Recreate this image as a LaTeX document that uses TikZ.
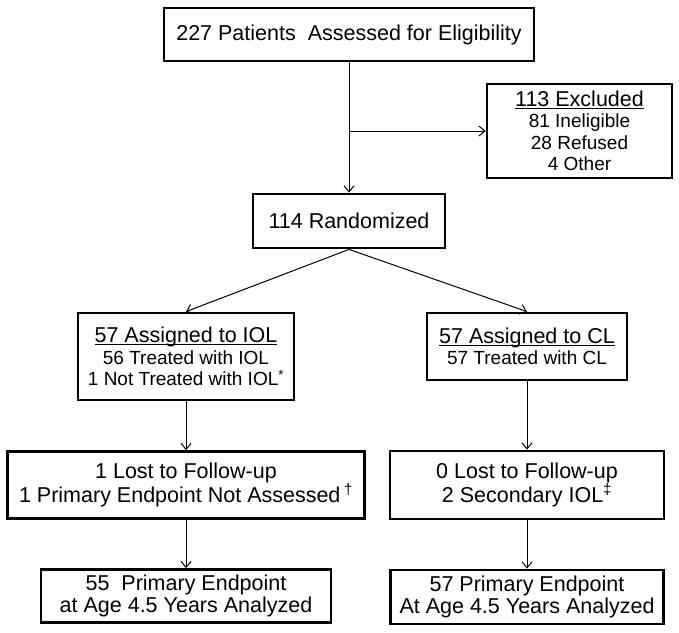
\documentclass[tikz,border=0pt]{standalone}
\usepackage{fontspec}
\setmainfont{Liberation Sans}
\usetikzlibrary{arrows.meta}
\newcommand{\bigtxt}{\fontsize{21.5}{21.5}\selectfont}
\newcommand{\smalltxt}{\fontsize{19}{20}\selectfont}
\newcommand{\headline}[1]{\underline{\raisebox{0pt}[\height][0pt]{#1}}}

\begin{document}
\begin{tikzpicture}[x=1pt, y=-1pt,
        box/.style={draw, line width=2.8pt, align=center, inner sep=0pt,
            font=\bigtxt},
        arr/.style={-{Straight Barb[length=6pt,width=10pt]}, line width=1pt}]
    \useasboundingbox (0,0) rectangle (679,632);

    % screening and randomisation
    \node[box, minimum width=370pt, minimum height=53pt] (assess) at (349,34.5)
        {227 Patients\ \ Assessed for Eligibility};
    \node[box, minimum width=185pt, minimum height=94pt] (excl) at (579.5,131)
        {\headline{113 Excluded}\\ \smalltxt 81 Ineligible\\
         \smalltxt 28 Refused\\ \smalltxt 4 Other};
    \node[box, minimum width=192pt, minimum height=54pt] (rand) at (349,221)
        {114 Randomized};

    % the two arms
    \node[box, minimum width=216pt, minimum height=87pt] (iol) at (186,356.5)
        {\headline{57 Assigned to IOL}\\ \smalltxt 56 Treated with IOL\\
         \smalltxt 1 Not Treated with IOL\textsuperscript{*}};
    \node[box, minimum width=200pt, minimum height=67pt] (cl) at (527,346.5)
        {\headline{57 Assigned to CL}\\ \smalltxt 57 Treated with CL};

    \node[box, minimum width=357pt, minimum height=67pt] (lostiol) at (186,485)
        {1 Lost to Follow-up\\
         1 Primary Endpoint Not Assessed\,\textsuperscript{†}};
    \node[box, minimum width=274pt, minimum height=68pt] (lostcl) at (527,485)
        {0 Lost to Follow-up\\ 2 Secondary IOL\textsuperscript{‡}};

    \node[box, minimum width=290pt, minimum height=53pt] (endiol) at (186,596)
        {55\ \ Primary Endpoint\\ at Age 4.5 Years Analyzed};
    \node[box, minimum width=273pt, minimum height=54pt] (endcl) at (527,597)
        {57 Primary Endpoint\\ At Age 4.5 Years Analyzed};

    % connectors
    \coordinate (split) at (assess.south |- excl.west);
    \draw[arr] (assess) -- (rand);
    \draw[arr] (split) -- (excl);
    \draw[arr] (rand.south) -- (iol.north);
    \draw[arr] (rand.south) -- (cl.north);
    \draw[arr] (iol) -- (lostiol);
    \draw[arr] (lostiol) -- (endiol);
    \draw[arr] (cl) -- (lostcl);
    \draw[arr] (lostcl) -- (endcl);
\end{tikzpicture}
\end{document}
